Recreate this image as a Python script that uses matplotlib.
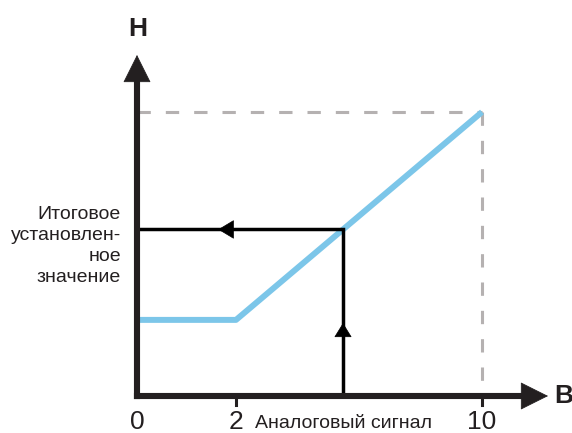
import numpy as np
import matplotlib
matplotlib.use("Agg")
import matplotlib.pyplot as plt

plt.rcParams['font.family'] = ['Liberation Sans', 'DejaVu Sans']
plt.rcParams['lines.scale_dashes'] = False

# ---- data ----
x_points = [0, 2, 10]          # analog signal (B)
y_points = [2.68, 2.68, 10]    # setpoint (H)
x_tick_values = [0, 2, 10]
x_tick_labels = ["0", "2", "10"]
x_signal = 5.48
y_max = 10
x_max = 10
y_label_lines = ["Итоговое", "установлен-", "ное", "значение"]
x_label = "Аналоговый сигнал"

y_result = float(np.interp(x_signal, x_points, y_points))

# ---- styles ----
AX_C = '#231f20'
BLUE = '#7cc6e9'
GRAY = '#b5b1b1'

W, H = 572, 433
fig = plt.figure(figsize=(W / 100, H / 100), dpi=100)
ax = fig.add_axes([0, 0, 1, 1])
ax.set_axis_off()

def fwd(x):
    x = np.asarray(x, float)
    return np.where(x <= 2, 137 + 49.5 * x, 236 + 30.75 * (x - 2))

def inv(p):
    p = np.asarray(p, float)
    return np.where(p <= 236, (p - 137) / 49.5, 2 + (p - 236) / 30.75)

ax.set_xscale('function', functions=(fwd, inv))
ax.set_xlim(float(inv(0)), float(inv(W)))
PPU = 28.4
ax.set_ylim(-(H - 396) / PPU, 396 / PPU)

# dashed reference lines
ax.plot([0, x_max], [y_max, y_max], color=GRAY, lw=2.2, dashes=(9.6, 10.8), zorder=1)
ax.plot([x_max, x_max], [y_max, 0], color=GRAY, lw=2.2, dashes=(9.6, 10.8), zorder=1)

# characteristic line
ax.plot(x_points, y_points, color=BLUE, lw=4.3, solid_capstyle='butt', zorder=2)

# black path: signal up, result left
ax.plot([x_signal, x_signal, 0], [0, y_result, y_result], color='black', lw=2.5,
        zorder=3, solid_joinstyle='miter')
ax.annotate('', xy=(x_signal, 2.57), xytext=(x_signal, 2.0),
            arrowprops=dict(arrowstyle='-|>,head_length=0.94,head_width=0.58',
                            mutation_scale=10, lw=0.5, color='black',
                            shrinkA=0, shrinkB=0), zorder=4)
ax.annotate('', xy=(1.64, y_result), xytext=(2.3, y_result),
            arrowprops=dict(arrowstyle='-|>,head_length=1.0,head_width=0.6',
                            mutation_scale=10.5, lw=0.5, color='black',
                            shrinkA=0, shrinkB=0), zorder=4)

# axes
x_tip = float(inv(548))
y_tip = (396 - 55) / PPU
ax.plot([0, 0], [0, y_tip - 0.6], color=AX_C, lw=4.4, solid_capstyle='projecting', zorder=5)
ax.plot([0, x_tip - 0.5], [0, 0], color=AX_C, lw=4.4, solid_capstyle='projecting', zorder=5)
ax.annotate('', xy=(0, y_tip), xytext=(0, y_tip - 1.0),
            arrowprops=dict(arrowstyle='-|>,head_length=1.0,head_width=0.5',
                            mutation_scale=18.7, lw=0.5, color=AX_C,
                            shrinkA=0, shrinkB=0), zorder=6)
ax.annotate('', xy=(x_tip, 0), xytext=(x_tip - 1.0, 0),
            arrowprops=dict(arrowstyle='-|>,head_length=1.0,head_width=0.5',
                            mutation_scale=18.7, lw=0.5, color=AX_C,
                            shrinkA=0, shrinkB=0), zorder=6)

# ticks
tick_len = 9 / PPU
for xv in x_tick_values[1:]:
    ax.plot([xv, xv], [0, -tick_len], color=AX_C, lw=2.2, zorder=5)

# tick labels
for xv, lab in zip(x_tick_values, x_tick_labels):
    ax.text(xv, -(429 - 396) / PPU, lab, ha='center', va='baseline',
            fontsize=19, color=AX_C)

def fx(px):
    return px / W

def fy(py):
    return 1 - py / H

fig.text(fx(255), fy(428), x_label, ha='left', va='baseline', fontsize=14, color=AX_C)
for i, line in enumerate(y_label_lines):
    fig.text(fx(121), fy(219 + 21 * i), line, ha='right', va='baseline',
             fontsize=14, color=AX_C)

fig.text(fx(138), fy(36), "Н", ha='center', va='baseline', fontsize=19,
         fontweight='bold', color=AX_C)
fig.text(fx(564), fy(403), "В", ha='center', va='baseline', fontsize=19,
         fontweight='bold', color=AX_C)

fig.savefig('out.png', dpi=100)
